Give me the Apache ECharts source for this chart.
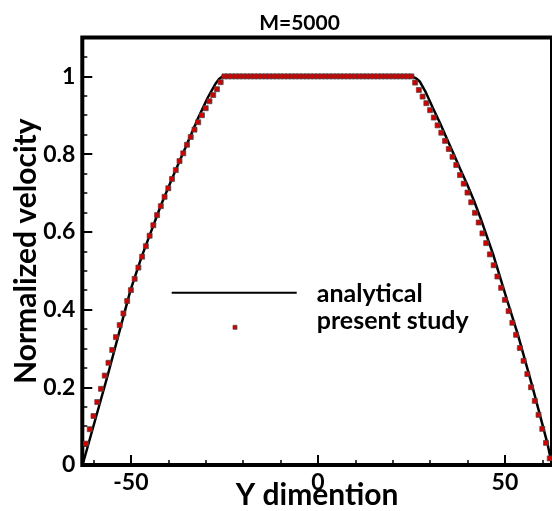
<!DOCTYPE html>
<html><head><meta charset="utf-8">
<script src="https://cdn.jsdelivr.net/npm/echarts@6/dist/echarts.min.js"></script>
<style>html,body{margin:0;padding:0;background:#fff}#c{width:552px;height:511px}</style>
</head><body><div id="c"></div>
<script>
const chartTitle = 'M=5000';
const xAxisName = 'Y dimention';
const yAxisName = 'Normalized velocity';
const seriesNames = ['analytical', 'present study'];
const xTickLabels = [-50, 0, 50];
const xMinorTicks = [-60, -40, -30, -20, -10, 10, 20, 30, 40, 60];
const yTickLabels = [0, 0.2, 0.4, 0.6, 0.8, 1];
const yMinorTicks = [0.05, 0.1, 0.15, 0.25, 0.3, 0.35, 0.45, 0.5, 0.55, 0.65, 0.7, 0.75, 0.85, 0.9, 0.95, 1.05];

const analyticX = [-62.94, -56.26, -50.11, -47.17, -41.95, -38.2, -35.40, -32.25, -29.47, -27.51, -26.44, -25.51,
  25.16, 26.23, 27.30, 28.90, 30.78, 32.65, 34.52, 36.39, 37.99, 39.87, 41.74, 43.61, 46.82, 50.56, 53.50, 57.38, 61.34, 62.6];
const analyticV = [0, 0.229, 0.450, 0.535, 0.669, 0.755, 0.817, 0.888, 0.945, 0.979, 0.993, 1,
  1, 0.995, 0.986, 0.958, 0.918, 0.880, 0.839, 0.798, 0.763, 0.723, 0.680, 0.632, 0.543, 0.425, 0.335, 0.201, 0.057, 0];

const studyX = [-62, -61, -60, -59, -58, -57, -56, -55, -54, -53, -52, -51, -50, -49, -48, -47, -46, -45, -44, -43,
  -42, -41, -40, -39, -38, -37, -36, -35, -34, -33, -32, -31, -30, -29, -28, -27, -26,
  -25, -24, -23, -22, -21, -20, -19, -18, -17, -16, -15, -14, -13, -12, -11, -10, -9, -8, -7, -6, -5, -4, -3, -2, -1,
  0, 1, 2, 3, 4, 5, 6, 7, 8, 9, 10, 11, 12, 13, 14, 15, 16, 17, 18, 19, 20, 21, 22, 23, 24, 25,
  26, 27, 28, 29, 30, 31, 32, 33, 34, 35, 36, 37, 38, 39, 40, 41, 42, 43, 44, 45, 46, 47, 48, 49, 50,
  51, 52, 53, 54, 55, 56, 57, 58, 59, 60, 61, 62];
const studyV = [0.055, 0.092, 0.126, 0.162, 0.196, 0.230, 0.263, 0.296, 0.329, 0.360,
  0.390, 0.422, 0.450, 0.479, 0.508, 0.536, 0.563, 0.590, 0.617, 0.643,
  0.666, 0.690, 0.712, 0.736, 0.759, 0.782, 0.802, 0.824, 0.844, 0.863,
  0.882, 0.900, 0.918, 0.936, 0.952, 0.967, 0.985,
  1, 1, 1, 1, 1, 1, 1, 1, 1, 1, 1, 1, 1, 1, 1, 1, 1, 1, 1, 1, 1, 1, 1, 1, 1,
  1, 1, 1, 1, 1, 1, 1, 1, 1, 1, 1, 1, 1, 1, 1, 1, 1, 1, 1, 1, 1, 1, 1, 1, 1, 1,
  0.984, 0.965, 0.948, 0.931, 0.913, 0.894, 0.874, 0.855, 0.834, 0.813,
  0.793, 0.772, 0.746, 0.724, 0.701, 0.676, 0.649, 0.624, 0.596, 0.571,
  0.542, 0.514, 0.485, 0.456, 0.425, 0.396, 0.366, 0.335, 0.301, 0.268,
  0.234, 0.200, 0.165, 0.129, 0.093, 0.057, 0.017];

const FONT = 'Lato';
const RED = '#d40000';
const chart = echarts.init(document.getElementById('c'), null, {renderer: 'canvas'});
const xBase = {type: 'value', min: -63, max: 62.6, position: 'bottom', splitLine: {show: false}, axisLine: {show: false, onZero: false}};
const yBase = {type: 'value', min: 0, max: 1.1, position: 'left', splitLine: {show: false}, axisLine: {show: false, onZero: false}};
const labelFont = {fontFamily: FONT, fontWeight: 'bold', fontSize: 23, color: '#000'};
chart.setOption({
  animation: false,
  backgroundColor: '#fff',
  title: {text: chartTitle, left: 294.5, top: 8, textAlign: 'center',
    textStyle: {fontFamily: FONT, fontWeight: 'bold', fontSize: 21, color: '#000'}},
  grid: {left: 82.3, right: 0, top: 37.5, bottom: 46, show: true, borderColor: '#000', borderWidth: 4,
    backgroundColor: 'transparent', containLabel: false, outerBoundsMode: 'none'},
  xAxis: [
    Object.assign({}, xBase, {
      axisTick: {show: true, inside: true, length: 10, lineStyle: {color: '#000', width: 2}, customValues: xTickLabels},
      axisLabel: Object.assign({show: true, customValues: xTickLabels, margin: 6}, labelFont),
      name: xAxisName, nameLocation: 'middle', nameGap: 15, nameMoveOverlap: false,
      nameTextStyle: {fontFamily: FONT, fontWeight: 'bold', fontSize: 30, color: '#000'}
    }),
    Object.assign({}, xBase, {
      axisTick: {show: true, inside: true, length: 5, lineStyle: {color: '#000', width: 1.5}, customValues: xMinorTicks},
      axisLabel: {show: false}
    })
  ],
  yAxis: [
    Object.assign({}, yBase, {
      axisTick: {show: true, inside: true, length: 10, lineStyle: {color: '#000', width: 2}, customValues: yTickLabels},
      axisLabel: Object.assign({show: true, customValues: yTickLabels, margin: 7}, labelFont),
      name: yAxisName, nameLocation: 'middle', nameGap: 41, nameMoveOverlap: false,
      nameTextStyle: {fontFamily: FONT, fontWeight: 'bold', fontSize: 30, color: '#000'}
    }),
    Object.assign({}, yBase, {
      axisTick: {show: true, inside: true, length: 5, lineStyle: {color: '#000', width: 1.5}, customValues: yMinorTicks},
      axisLabel: {show: false}
    })
  ],
  series: [
    {type: 'line', name: seriesNames[0], xAxisIndex: 0, yAxisIndex: 0,
      data: analyticX.map((x, i) => [x, analyticV[i]]),
      symbol: 'none', lineStyle: {color: '#000', width: 2.5}, z: 2},
    {type: 'scatter', name: seriesNames[1], xAxisIndex: 0, yAxisIndex: 0,
      data: studyX.map((x, i) => [x, studyV[i]]),
      symbol: 'rect', symbolSize: 5, itemStyle: {color: RED, borderColor: '#444', borderWidth: 0.7, opacity: 1}, z: 3}
  ],
  graphic: [
    {type: 'line', shape: {x1: 171.7, y1: 292.7, x2: 296.7, y2: 292.7}, style: {stroke: '#000', lineWidth: 2}},
    {type: 'rect', shape: {x: 233, y: 325.3, width: 4, height: 4}, style: {fill: RED, stroke: '#444', lineWidth: 0.7}},
    {type: 'text', x: 316.7, y: 293.5, style: {text: seriesNames[0], fontFamily: FONT, fontWeight: 'bold', fontSize: 25, fill: '#000', verticalAlign: 'middle'}},
    {type: 'text', x: 316.7, y: 321.3, style: {text: seriesNames[1], fontFamily: FONT, fontWeight: 'bold', fontSize: 25, fill: '#000', verticalAlign: 'middle'}}
  ]
});
</script>
</body></html>
